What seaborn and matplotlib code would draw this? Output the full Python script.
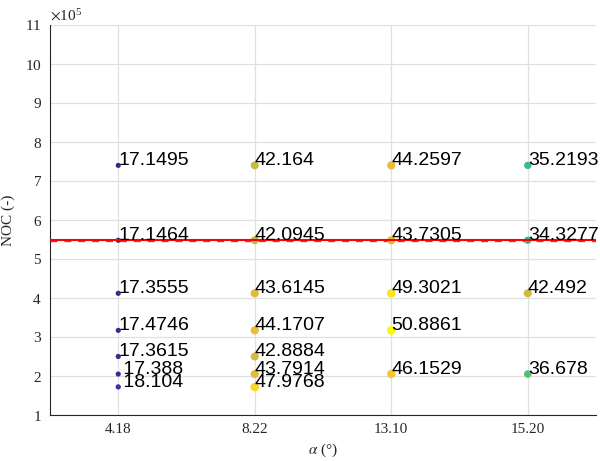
import matplotlib
matplotlib.use("Agg")
import matplotlib.pyplot as plt
from matplotlib.colors import LinearSegmentedColormap
from matplotlib.ticker import ScalarFormatter, MultipleLocator
import numpy as np
import pandas as pd
import seaborn as sns

# Inclination angle categories (degrees)
alpha_labels = ["4.18", "8.22", "13.10", "15.20"]

# Number of cycles for each measured point, grouped by angle
noc_418 = [7.40e5, 5.48e5, 4.12e5, 3.17e5, 2.50e5, 2.05e5, 1.72e5]
noc_822 = [7.40e5, 5.48e5, 4.12e5, 3.17e5, 2.50e5, 2.05e5, 1.72e5]
noc_1310 = [7.40e5, 5.48e5, 4.12e5, 3.17e5, 2.05e5]
noc_1520 = [7.40e5, 5.48e5, 4.12e5, 2.05e5]

# Measured value annotated at each point
val_418 = [17.1495, 17.1464, 17.3555, 17.4746, 17.3615, 17.388, 18.104]
val_822 = [42.164, 42.0945, 43.6145, 44.1707, 42.8884, 43.7914, 47.9768]
val_1310 = [44.2597, 43.7305, 49.3021, 50.8861, 46.1529]
val_1520 = [35.2193, 34.3277, 42.492, 36.678]

# Reference NOC levels
noc_limit = 5.48e5
noc_limit_dashed = 5.46e5

# Labels printed with a leading blank (angle, row)
spaced_labels = {("4.18", 5), ("4.18", 6)}

rows = []
for lab, nocs, vals in zip(alpha_labels,
                           [noc_418, noc_822, noc_1310, noc_1520],
                           [val_418, val_822, val_1310, val_1520]):
    for i, (n, v) in enumerate(zip(nocs, vals)):
        rows.append({"alpha": lab, "noc": n, "val": v, "row": i})
df = pd.DataFrame(rows)

# Parula-like colormap
parula = LinearSegmentedColormap.from_list("parula", [
    (0.00, (0.2081, 0.1663, 0.5292)),
    (0.10, (0.2650, 0.2800, 0.8800)),
    (0.20, (0.1600, 0.4500, 0.9300)),
    (0.30, (0.0600, 0.5600, 0.8500)),
    (0.40, (0.0300, 0.6600, 0.7800)),
    (0.50, (0.1600, 0.7200, 0.5600)),
    (0.60, (0.4000, 0.7500, 0.4200)),
    (0.70, (0.6600, 0.7400, 0.3000)),
    (0.80, (0.9300, 0.7300, 0.2200)),
    (0.90, (0.9900, 0.8100, 0.1700)),
    (1.00, (0.9763, 0.9831, 0.0538)),
])

sns.set_theme(style="white")
plt.rcParams["font.family"] = ["Liberation Serif", "DejaVu Serif"]
plt.rcParams["mathtext.fontset"] = "stix"

fig = plt.figure(figsize=(6.0, 4.61), dpi=100)
ax = fig.add_axes([50 / 600, 1 - 415 / 461, 546 / 600, 390 / 461])

vmin, vmax = df["val"].min(), df["val"].max()
sns.scatterplot(data=df, x="alpha", y="noc", hue="val", palette=parula,
                hue_norm=(vmin, vmax), size="val",
                sizes=(vmin * 0.8, vmax * 0.8), size_norm=(vmin, vmax),
                linewidth=0, legend=False, ax=ax, zorder=2)

ax.axhline(noc_limit_dashed, color=(0.62, 0.25, 0.55), lw=1.0,
           ls=(0, (5, 5)), zorder=1.5)
ax.axhline(noc_limit, color="red", lw=1.5, zorder=3)

for _, r in df.iterrows():
    txt = f"{r['val']:g}"
    if (r["alpha"], int(r["row"])) in spaced_labels:
        txt = " " + txt
    ax.text(alpha_labels.index(r["alpha"]), r["noc"], txt,
            ha="left", va="baseline", fontsize=14, color="black",
            family=["Liberation Sans", "DejaVu Sans"], zorder=4)

ax.set_xlim(-0.5, 3.5)
ax.set_ylim(1e5, 11e5)
ax.yaxis.set_major_locator(MultipleLocator(1e5))
fmt = ScalarFormatter(useMathText=True)
fmt.set_powerlimits((5, 5))
ax.yaxis.set_major_formatter(fmt)
ax.yaxis.get_offset_text().set_fontsize(11)
ax.yaxis.get_offset_text().set_color("0.15")

ax.grid(True, color="0.88", lw=0.9)
ax.set_axisbelow(True)
for s in ["top", "right"]:
    ax.spines[s].set_visible(False)
for s in ["left", "bottom"]:
    ax.spines[s].set_color("0.15")
    ax.spines[s].set_linewidth(0.8)
ax.tick_params(direction="in", length=3.5, width=0.6, colors="0.15",
               labelsize=11, pad=6)

ax.set_xlabel(r"$\alpha$ (°)", fontsize=11, color="0.15", labelpad=4)
ax.set_ylabel("NOC (-)", fontsize=11, color="0.15", labelpad=7)

fig.savefig("out.png", dpi=100)
